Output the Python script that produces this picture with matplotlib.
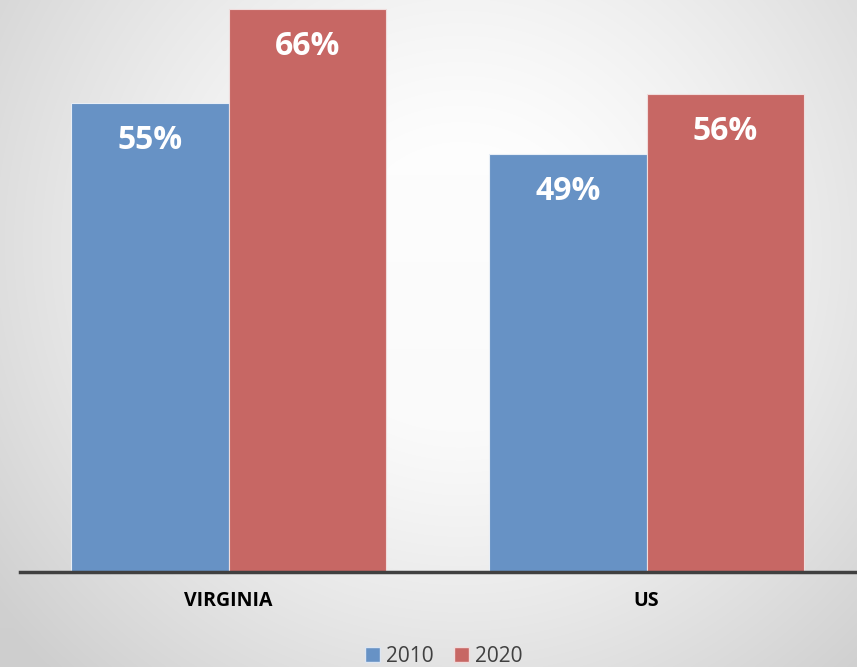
#!/usr/bin/env python3
"""Grouped bar chart: share by region, 2010 vs 2020."""
import numpy as np
import matplotlib.pyplot as plt
from matplotlib.patches import Patch

plt.rcParams["font.family"] = ["Open Sans", "DejaVu Sans"]
plt.rcParams["font.stretch"] = "normal"

# ── Data ──
categories = ["VIRGINIA", "US"]
years = ["2010", "2020"]
vals_2010 = [55, 49]
vals_2020 = [66, 56]

C_BLUE = "#6792C5"
C_RED = "#C76764"
C_AXIS = "#404040"

W, H = 857, 667
fig = plt.figure(figsize=(W / 100, H / 100), dpi=100)

# ── Radial gradient background ──
bg = fig.add_axes([0, 0, 1, 1], zorder=-10)
yy, xx = np.mgrid[0:H, 0:W]
d = np.hypot(xx - 460, yy - 290)
g = 1.0 - 0.16 * np.clip((d - 140) / 420, 0, 1) ** 1.2 - 0.03 * (yy / H)
bg.imshow(np.dstack([g, g, g]), aspect="auto", extent=(0, W, H, 0))
bg.axis("off")

# ── Main axes ──
ax = fig.add_axes([19.5 / W, 95 / H, 836 / W, 571.5 / H])
ax.set_facecolor("none")
x = np.arange(len(categories))
bw = 0.376
b1 = ax.bar(x - bw / 2, vals_2010, bw, color=C_BLUE, edgecolor="#e8eef6", linewidth=0.8)
b2 = ax.bar(x + bw / 2, vals_2020, bw, color=C_RED, edgecolor="#f0dcdc", linewidth=0.8)

for bars, vals in [(b1, vals_2010), (b2, vals_2020)]:
    for rect, v in zip(bars, vals):
        ax.annotate(f"{v}%", (rect.get_x() + rect.get_width() / 2, v),
                    xytext=(0, -27), textcoords="offset points",
                    ha="center", va="center", fontsize=23,
                    weight="bold", stretch="normal", color="white")

ax.set_xlim(-0.5, 1.5)
ax.set_ylim(0, 67)
ax.set_yticks([])
ax.set_xticks(x)
ax.set_xticklabels(categories, fontsize=14, weight="bold", stretch="normal", color="black")
ax.tick_params(axis="x", length=0, pad=14)
for s in ["top", "right", "left"]:
    ax.spines[s].set_visible(False)
ax.spines["bottom"].set_color(C_AXIS)
ax.spines["bottom"].set_linewidth(2.5)

# ── Legend ──
handles = [Patch(facecolor=C_BLUE, edgecolor="#dde6f2", label=years[0]),
           Patch(facecolor=C_RED, edgecolor="#f0dcdc", label=years[1])]
fig.legend(handles=handles, loc="center", bbox_to_anchor=(444 / W, 1 - 656 / H),
           ncol=2, frameon=False, fontsize=15, handlelength=0.7, handleheight=0.7,
           handletextpad=0.3, columnspacing=1.0, labelcolor="#404040")

fig.savefig("out.png", dpi=100)
